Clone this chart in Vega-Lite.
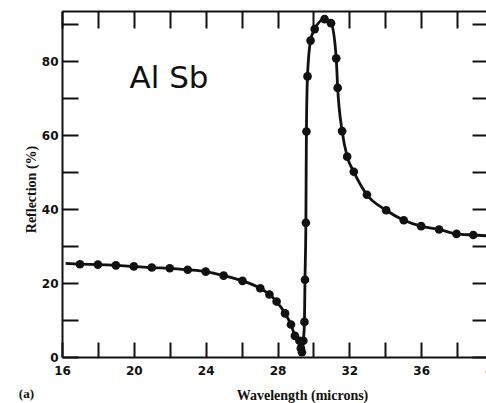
{
  "$schema": "https://vega.github.io/schema/vega-lite/v6.json",
  "width": 431,
  "height": 346,
  "autosize": {"type": "none"},
  "padding": {"left": 62, "top": 11, "right": 0, "bottom": 46},
  "background": "white",
  "config": {
    "view": {"stroke": null},
    "axis": {
      "labelFont": "DejaVu Sans",
      "labelFontWeight": "bold",
      "labelFontSize": 12,
      "labelColor": "#111",
      "titleFont": "Liberation Serif",
      "titleFontWeight": "bold",
      "titleColor": "#111",
      "domainColor": "#111",
      "tickColor": "#111",
      "domainWidth": 2,
      "tickWidth": 2,
      "grid": false,
      "labelFlush": false,
      "labelOverlap": false
    }
  },
  "datasets": {
    "curve": [
      {"wavelength": 16.2, "reflection": 25.3, "marker": 0},
      {"wavelength": 17.0, "reflection": 25.1, "marker": 1},
      {"wavelength": 18.0, "reflection": 25.0, "marker": 1},
      {"wavelength": 19.0, "reflection": 24.8, "marker": 1},
      {"wavelength": 20.0, "reflection": 24.5, "marker": 1},
      {"wavelength": 21.0, "reflection": 24.2, "marker": 1},
      {"wavelength": 22.0, "reflection": 24.0, "marker": 1},
      {"wavelength": 23.0, "reflection": 23.6, "marker": 1},
      {"wavelength": 24.0, "reflection": 23.1, "marker": 1},
      {"wavelength": 25.0, "reflection": 22.0, "marker": 1},
      {"wavelength": 26.05, "reflection": 20.6, "marker": 1},
      {"wavelength": 27.04, "reflection": 18.6, "marker": 1},
      {"wavelength": 27.55, "reflection": 16.9, "marker": 1},
      {"wavelength": 27.95, "reflection": 15.0, "marker": 1},
      {"wavelength": 28.42, "reflection": 11.8, "marker": 1},
      {"wavelength": 28.75, "reflection": 8.8, "marker": 1},
      {"wavelength": 28.97, "reflection": 5.7, "marker": 1},
      {"wavelength": 29.22, "reflection": 4.4, "marker": 1},
      {"wavelength": 29.3, "reflection": 2.4, "marker": 1},
      {"wavelength": 29.36, "reflection": 1.3, "marker": 1},
      {"wavelength": 29.44, "reflection": 4.4, "marker": 1},
      {"wavelength": 29.5, "reflection": 9.5, "marker": 1},
      {"wavelength": 29.53, "reflection": 20.9, "marker": 1},
      {"wavelength": 29.58, "reflection": 36.3, "marker": 1},
      {"wavelength": 29.61, "reflection": 61.0, "marker": 1},
      {"wavelength": 29.67, "reflection": 75.9, "marker": 1},
      {"wavelength": 29.84, "reflection": 85.6, "marker": 1},
      {"wavelength": 30.07, "reflection": 88.7, "marker": 1},
      {"wavelength": 30.62, "reflection": 91.4, "marker": 1},
      {"wavelength": 30.98, "reflection": 90.3, "marker": 1},
      {"wavelength": 31.27, "reflection": 80.8, "marker": 1},
      {"wavelength": 31.35, "reflection": 72.8, "marker": 1},
      {"wavelength": 31.6, "reflection": 61.1, "marker": 1},
      {"wavelength": 31.88, "reflection": 54.2, "marker": 1},
      {"wavelength": 32.25, "reflection": 50.1, "marker": 1},
      {"wavelength": 32.98, "reflection": 43.9, "marker": 1},
      {"wavelength": 34.05, "reflection": 39.7, "marker": 1},
      {"wavelength": 35.03, "reflection": 37.0, "marker": 1},
      {"wavelength": 36.0, "reflection": 35.4, "marker": 1},
      {"wavelength": 37.0, "reflection": 34.5, "marker": 1},
      {"wavelength": 37.97, "reflection": 33.3, "marker": 1},
      {"wavelength": 38.9, "reflection": 33.0, "marker": 1},
      {"wavelength": 40.0, "reflection": 32.7, "marker": 0}
    ]
  },
  "layer": [
    {
      "data": {"name": "curve"},
      "mark": {"type": "line", "interpolate": "monotone", "color": "#111", "strokeWidth": 2.8},
      "encoding": {
        "x": {
          "field": "wavelength", "type": "quantitative",
          "scale": {"domain": [16, 40], "nice": false, "zero": false},
          "axis": {
            "orient": "bottom",
            "values": [16, 18, 20, 22, 24, 26, 28, 30, 32, 34, 36, 38, 40],
            "labelExpr": "datum.value % 4 == 0 ? datum.label : ''",
            "tickSize": -15,
            "labelPadding": 23,
            "title": "Wavelength (microns)",
            "titleFontSize": 14,
            "titleX": 240,
            "titleY": 42,
            "titleBaseline": "alphabetic"
          }
        },
        "y": {
          "field": "reflection", "type": "quantitative",
          "scale": {"domain": [0, 93.6], "nice": false, "zero": false},
          "axis": {
            "orient": "left",
            "values": [0, 10, 20, 30, 40, 50, 60, 70, 80, 90],
            "labelExpr": "datum.value % 20 == 0 ? datum.label : ''",
            "tickSize": -16,
            "labelPadding": 20,
            "title": "Reflection (%)",
            "titleFontSize": 14,
            "titleX": -31,
            "titleY": 178,
            "titleAngle": 270,
            "titleBaseline": "middle"
          }
        }
      }
    },
    {
      "data": {"name": "curve"},
      "transform": [{"filter": "datum.marker == 1"}],
      "mark": {"type": "point", "filled": true, "size": 75, "color": "#111", "opacity": 1},
      "encoding": {
        "x": {
          "field": "wavelength", "type": "quantitative",
          "axis": {
            "orient": "top",
            "values": [16, 18, 20, 22, 24, 26, 28, 30, 32, 34, 36, 38, 40],
            "labels": false,
            "tickSize": -17,
            "title": null
          }
        },
        "y": {
          "field": "reflection", "type": "quantitative",
          "axis": {
            "orient": "right",
            "values": [0, 10, 20, 30, 40, 50, 60, 70, 80, 90],
            "labels": false,
            "tickSize": -21,
            "title": null
          }
        }
      }
    },
    {
      "data": {"values": [
        {"wavelength": 21.96, "reflection": 75.1, "label": "Al Sb"}
      ]},
      "mark": {"type": "text", "color": "#111", "baseline": "middle", "align": "center", "font": "DejaVu Sans", "fontSize": 31, "fontWeight": "normal"},
      "encoding": {
        "x": {"field": "wavelength", "type": "quantitative", "axis": null},
        "y": {"field": "reflection", "type": "quantitative", "axis": null},
        "text": {"field": "label"}
      }
    },
    {
      "data": {"values": [
        {"wavelength": 14.02, "reflection": -9.9, "label": "(a)"}
      ]},
      "mark": {"type": "text", "color": "#111", "baseline": "middle", "align": "center", "font": "Liberation Serif", "fontSize": 13, "fontWeight": "bold"},
      "encoding": {
        "x": {"field": "wavelength", "type": "quantitative", "axis": null},
        "y": {"field": "reflection", "type": "quantitative", "axis": null},
        "text": {"field": "label"}
      }
    }
  ],
  "resolve": {"axis": {"x": "independent", "y": "independent"}}
}
